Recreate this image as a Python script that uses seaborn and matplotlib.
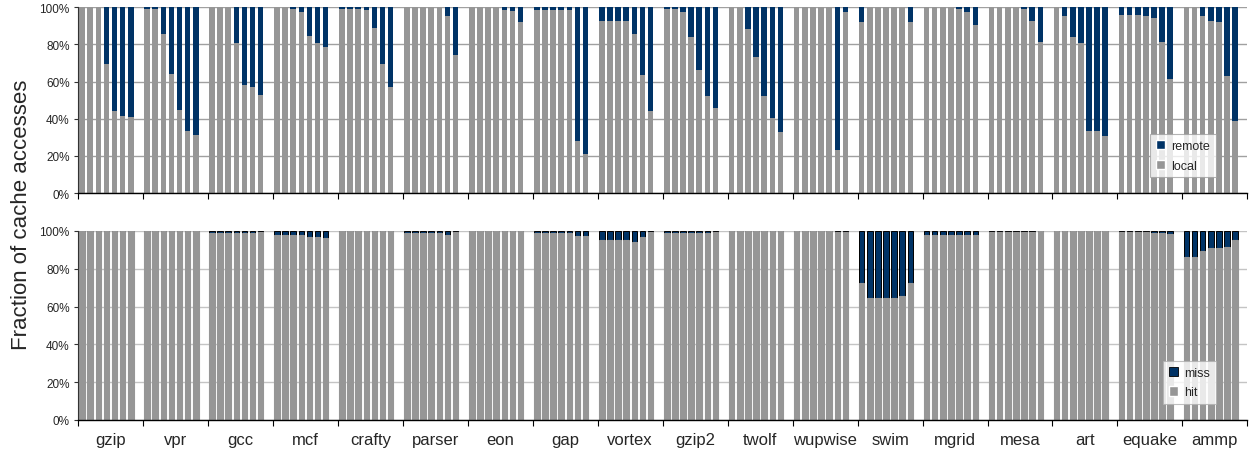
import numpy as np
import pandas as pd
import matplotlib
matplotlib.use('Agg')
import matplotlib.pyplot as plt
import seaborn as sns
from matplotlib.patches import Patch

# Benchmarks, 7 configurations each
benchmarks = ['gzip', 'vpr', 'gcc', 'mcf', 'crafty', 'parser', 'eon', 'gap', 'vortex',
              'gzip2', 'twolf', 'wupwise', 'swim', 'mgrid', 'mesa', 'art', 'equake', 'ammp']

# Top panel: local share (%) of cache accesses, remote is the rest
local_pct = [
    [100, 100, 100, 69.5, 44.0, 41.5, 41.0],    # gzip
    [99.0, 99.0, 85.7, 64.0, 44.7, 33.5, 31.3],  # vpr
    [100, 100, 100, 80.9, 58.1, 57.1, 52.8],    # gcc
    [100, 100, 99.0, 97.5, 84.4, 80.9, 78.5],   # mcf
    [99.0, 99.0, 99.0, 98.4, 88.7, 69.4, 57.1],  # crafty
    [100, 100, 100, 100, 100, 95.3, 74.2],      # parser
    [100, 100, 100, 100, 98.4, 97.9, 92.0],     # eon
    [98.4, 98.4, 98.4, 98.4, 98.4, 28.1, 21.1],  # gap
    [92.5, 92.5, 92.5, 92.5, 85.5, 63.5, 44.2],  # vortex
    [99.0, 99.0, 97.3, 83.9, 66.2, 52.2, 45.8],  # gzip2
    [100, 100, 88.2, 73.2, 52.2, 40.4, 32.9],   # twolf
    [100, 100, 100, 100, 100, 23.3, 97.3],      # wupwise
    [92.0, 100, 100, 100, 100, 100, 92.0],      # swim
    [100, 100, 100, 100, 99.0, 97.3, 90.5],     # mgrid
    [100, 100, 100, 100, 99.0, 92.5, 81.2],     # mesa
    [100, 95.2, 83.9, 80.7, 33.5, 33.5, 30.8],  # art
    [95.7, 95.7, 95.7, 95.2, 94.1, 81.2, 61.4],  # equake
    [100, 100, 95.2, 92.5, 92.0, 63.0, 38.8],   # ammp
]

# Bottom panel: hit share (%), miss is the rest
hit_pct = [
    [100, 100, 100, 100, 100, 100, 100],        # gzip
    [100, 100, 100, 100, 100, 100, 100],        # vpr
    [99.0, 99.0, 99.0, 99.0, 99.0, 99.0, 99.6],  # gcc
    [97.7, 97.7, 97.7, 97.7, 96.8, 96.8, 96.3],  # mcf
    [100, 100, 100, 100, 100, 100, 100],        # crafty
    [99.0, 99.0, 99.0, 99.0, 99.0, 98.0, 99.6],  # parser
    [100, 100, 100, 100, 100, 100, 100],        # eon
    [99.0, 99.0, 99.0, 99.0, 99.0, 97.5, 97.5],  # gap
    [95.0, 95.0, 95.0, 95.0, 94.0, 97.0, 99.5],  # vortex
    [99.0, 99.0, 99.0, 99.0, 99.0, 99.0, 99.5],  # gzip2
    [100, 100, 100, 100, 100, 100, 100],        # twolf
    [100, 100, 100, 100, 100, 99.5, 99.5],      # wupwise
    [72.6, 64.7, 64.7, 64.7, 64.7, 65.4, 72.6],  # swim
    [97.7, 97.7, 97.7, 97.7, 97.7, 97.7, 97.7],  # mgrid
    [99.3, 99.3, 99.3, 99.3, 99.3, 99.3, 100],  # mesa
    [100, 100, 100, 100, 100, 100, 100],        # art
    [99.5, 99.5, 99.5, 99.5, 99.0, 99.0, 98.2],  # equake
    [86.2, 86.0, 89.2, 91.0, 91.0, 91.7, 95.0],  # ammp
]

GRAY = '#969696'
NAVY = '#003366'
N_CFG = 7
SLOT = 8  # 7 bars + 1 gap per benchmark

sns.set_theme(style='white')
plt.rcParams['font.family'] = ['Liberation Sans', 'DejaVu Sans']

# Build long table with bar positions
rows = []
for g, name in enumerate(benchmarks):
    for j in range(N_CFG):
        rows.append({'bench': name, 'pos': g * SLOT + j + 0.5,
                     'local': local_pct[g][j], 'hit': hit_pct[g][j], 'total': 100})
df = pd.DataFrame(rows)

fig = plt.figure(figsize=(12.52, 4.6), dpi=100)
ax_top = fig.add_axes([0.0623, 0.578, 0.934, 0.404])
ax_bot = fig.add_axes([0.0623, 0.0848, 0.934, 0.411])

common = dict(data=df, x='pos', native_scale=True, width=0.68, saturation=1,
              errorbar=None)

# Top: remote (navy, full height) underneath, local (gray) over it
sns.barplot(y='total', color=NAVY, linewidth=0, ax=ax_top, **common)
sns.barplot(y='local', color=GRAY, linewidth=0, ax=ax_top, **common)

# Bottom: miss bars outlined in black, hit drawn over
sns.barplot(y='total', color=NAVY, edgecolor='black', linewidth=0.7, ax=ax_bot, **common)
sns.barplot(y='hit', color=GRAY, edgecolor=GRAY, linewidth=0.8, ax=ax_bot, **common)

n_slots = len(benchmarks) * SLOT
for ax, grid_col in [(ax_top, '#a0a0a0'), (ax_bot, '#c4c4c4')]:
    ax.set_xlim(0, n_slots)
    ax.set_ylim(0, 100)
    ax.set_yticks(np.arange(0, 101, 20))
    ax.set_yticklabels([f'{v}%' for v in range(0, 101, 20)])
    ax.yaxis.grid(True, color=grid_col, linewidth=1)
    ax.set_axisbelow(True)
    ax.set_xticks(np.arange(0, n_slots + 1, SLOT))
    ax.set_xticklabels([])
    ax.tick_params(axis='x', which='major', direction='out', length=4, width=0.8,
                   color='black', bottom=True)
    ax.tick_params(axis='y', direction='out', length=3, width=0.8, color='#333333',
                   labelsize=8.5, pad=3, left=True)
    for s in ['top', 'right']:
        ax.spines[s].set_visible(False)
    ax.spines['bottom'].set_color('black')
    ax.spines['bottom'].set_linewidth(1)
    ax.spines['left'].set_color('#333333')
    ax.spines['left'].set_linewidth(0.8)
    ax.set_xlabel('')
    ax.set_ylabel('')

# Benchmark names under the bottom panel
centers = np.arange(len(benchmarks)) * SLOT + SLOT / 2
ax_bot.set_xticks(centers, minor=True)
ax_bot.set_xticklabels(benchmarks, minor=True)
ax_bot.tick_params(axis='x', which='minor', length=0, labelsize=12, pad=9)

leg_kw = dict(loc='lower left', frameon=True, fancybox=False, fontsize=9,
              handlelength=0.75, handleheight=0.75, handletextpad=0.5,
              borderpad=0.45, labelspacing=0.6, borderaxespad=0)
leg = ax_top.legend(handles=[Patch(facecolor=NAVY, label='remote'),
                             Patch(facecolor=GRAY, label='local')],
                    bbox_to_anchor=(0.917, 0.086), **leg_kw)
leg.get_frame().set_edgecolor('#a0a0a0')
leg.get_frame().set_linewidth(0.8)

leg = ax_bot.legend(handles=[Patch(facecolor=NAVY, edgecolor='black', linewidth=0.6, label='miss'),
                             Patch(facecolor=GRAY, label='hit')],
                    bbox_to_anchor=(0.928, 0.085), **leg_kw)
leg.get_frame().set_edgecolor('#b0b0b0')
leg.get_frame().set_linewidth(0.8)

fig.text(0.017, 0.533, 'Fraction of cache accesses', rotation=90,
         ha='center', va='center', fontsize=16)

fig.savefig('out.png', dpi=100)
